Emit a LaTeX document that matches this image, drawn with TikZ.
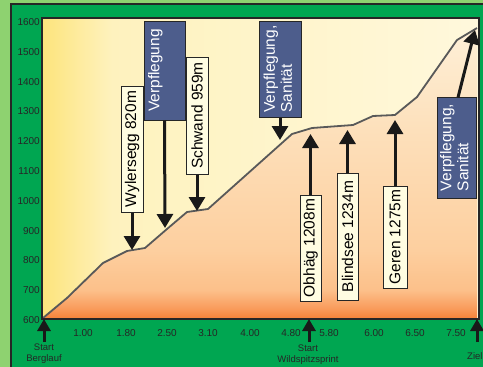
\documentclass[tikz,border=0pt]{standalone}
\usepackage{fontspec}
\setmainfont{Liberation Sans}
\usetikzlibrary{arrows.meta}

\definecolor{hellgruen}{HTML}{8ED270}
\definecolor{dunkelgruen}{HTML}{00A651}
\definecolor{gelbA}{HTML}{FDE47C}
\definecolor{gelbB}{HTML}{FEF2BE}
\definecolor{gelbC}{HTML}{FFF8DC}
\definecolor{orangeA}{HTML}{F5833A}
\definecolor{orangeB}{HTML}{F99C5C}
\definecolor{orangeC}{HTML}{FCC08A}
\definecolor{pfirsich}{HTML}{FDCF9F}
\definecolor{pfirsichB}{HTML}{FDE0BB}
\definecolor{pfirsichhell}{HTML}{FEF0D8}
\definecolor{tafelblau}{HTML}{4D5D8C}
\definecolor{tafelweiss}{HTML}{FFFDE2}

\pgfdeclarehorizontalshading{himmel}{100bp}{color(0bp)=(gelbA); color(25bp)=(gelbA);
  color(33bp)=(gelbB); color(75bp)=(gelbC); color(100bp)=(gelbC)}
\pgfdeclareverticalshading{berg}{100bp}{color(0bp)=(orangeA); color(25bp)=(orangeA);
  color(26.7bp)=(orangeB); color(29.8bp)=(orangeC); color(36.7bp)=(pfirsich);
  color(57.4bp)=(pfirsichB); color(75bp)=(pfirsichhell); color(100bp)=(pfirsichhell)}

\begin{document}
\begin{tikzpicture}[x=1pt,y=-1pt,
  tafel/.style={draw=black!85,line width=1pt,fill=tafelweiss,inner sep=1pt,
    font=\fontsize{15.5}{17}\selectfont},
  blautafel/.style={tafel,fill=tafelblau,text=white},
  pfeil/.style={line width=3pt,black!90,-{Triangle[width=16pt,length=14pt]}},
  startpfeil/.style={line width=3pt,black!90,-{Triangle[width=13pt,length=12pt]}},
  ylab/.style={anchor=east,inner sep=0pt,text=black!85,font=\fontsize{10}{10}\selectfont},
  xlab/.style={inner sep=0pt,text=black!85,font=\fontsize{10}{10}\selectfont},
  unten/.style={inner sep=0pt,align=center,text=black!85,font=\fontsize{9.5}{11}\selectfont}]
\useasboundingbox (0,0) rectangle (483,367);
\fill[hellgruen] (0,0) rectangle (483,367);
\draw[line width=1.5pt,black!85,fill=dunkelgruen] (11,4) rectangle (495,380);

% Hoehenprofil
\shade[shading=himmel] (42,18) rectangle (479,319);
\shade[shading=berg] (43,318) -- (67,298) -- (103,263) -- (127,251) -- (145,248) -- (167,229)
  -- (187,212) -- (208,209) -- (292,134) -- (312,128) -- (353,125) -- (373,116) -- (395,115)
  -- (417,97) -- (457,40) -- (477,28) -- (477,318) -- cycle;
\draw[line width=1.8pt,black!65,line join=round] (43,318) -- (67,298) -- (103,263) -- (127,251)
  -- (145,248) -- (167,229) -- (187,212) -- (208,209) -- (292,134) -- (312,128) -- (353,125)
  -- (373,116) -- (395,115) -- (417,97) -- (457,40) -- (477,28);
\draw[line width=2.4pt,black!85] (42,18) rectangle (479,319);

\foreach \h [count=\i from 0] in {600,700,...,1600}
  \node[ylab] (y\h) at (40,{320-29.8*\i}) {\h};
\foreach \x/\km [count=\i] in {83/1.00,126/1.80,167/2.50,208/3.10,250/4.00,291/4.80,329/5.80,374/6.00,415/6.50,456/7.50}
  \node[xlab] (x\i) at (\x,333) {\km};

% Verpflegung und Orte
\node[tafel,minimum width=22pt,minimum height=126pt] (wyl) at (132,149) {\rotatebox{90}{Wylersegg 820m}};
\node[blautafel,minimum width=41pt,minimum height=99pt] (verpf) at (164.5,70.5)
  {\rotatebox{90}{\begin{tabular}{@{}l@{}}Verpflegung\\\phantom{S}\end{tabular}}};
\node[tafel,minimum width=22pt,minimum height=117pt] (schw) at (197,115.5) {\rotatebox{90}{Schwand 959m}};
\node[blautafel,minimum width=42pt,minimum height=96pt] (san1) at (280,69)
  {\rotatebox{90}{\begin{tabular}{@{}l@{}}Verpflegung,\\Sanität\end{tabular}}};
\node[tafel,minimum width=21pt,minimum height=106pt] (obh) at (310.5,248) {\rotatebox{90}{Obhäg 1208m}};
\node[tafel,minimum width=21pt,minimum height=127pt] (blind) at (347.5,236.5) {\rotatebox{90}{Blindsee 1234m}};
\node[tafel,minimum width=24pt,minimum height=102pt] (geren) at (395,237) {\rotatebox{90}{Geren 1275m}};
\node[blautafel,minimum width=39pt,minimum height=101pt] (san2) at (456.5,147.5)
  {\rotatebox{90}{\begin{tabular}{@{}l@{}}Verpflegung,\\Sanität\end{tabular}}};

\coordinate (pWyl) at (132,250);
\coordinate (pVerpf) at (165,228);
\coordinate (pSchw) at (197,211);
\coordinate (pSan1) at (280,140);
\coordinate (pObh) at (310.5,134);
\coordinate (pBlind) at (347.5,130);
\coordinate (pGeren) at (395,120);
\coordinate (pZiel) at (475,30);

\draw[pfeil] (wyl.south) -- (pWyl);
\draw[pfeil] (verpf.south) -- (pVerpf);
\draw[pfeil] (schw.south) -- (pSchw);
\draw[pfeil] (san1.south) -- (pSan1);
\draw[pfeil] (obh.north) -- (pObh);
\draw[pfeil] (blind.north) -- (pBlind);
\draw[pfeil] (geren.north) -- (pGeren);
\draw[pfeil] (458,97.5) -- (pZiel);

% Start und Ziel
\node[unten] (berg) at (44,353.5) {Start\\Berglauf};
\node[unten] (sprint) at (308,354.5) {Start\\Wildspitzsprint};
\node[unten,anchor=west] (ziel) at (467,356) {Ziel};
\coordinate (sBerg) at (44,319);
\coordinate (sSprint) at (309,319);
\coordinate (sZiel) at (477,319);
\draw[startpfeil] (44,342) -- (sBerg);
\draw[startpfeil] (309,342) -- (sSprint);
\draw[startpfeil] (477,342) -- (sZiel);
\end{tikzpicture}
\end{document}
